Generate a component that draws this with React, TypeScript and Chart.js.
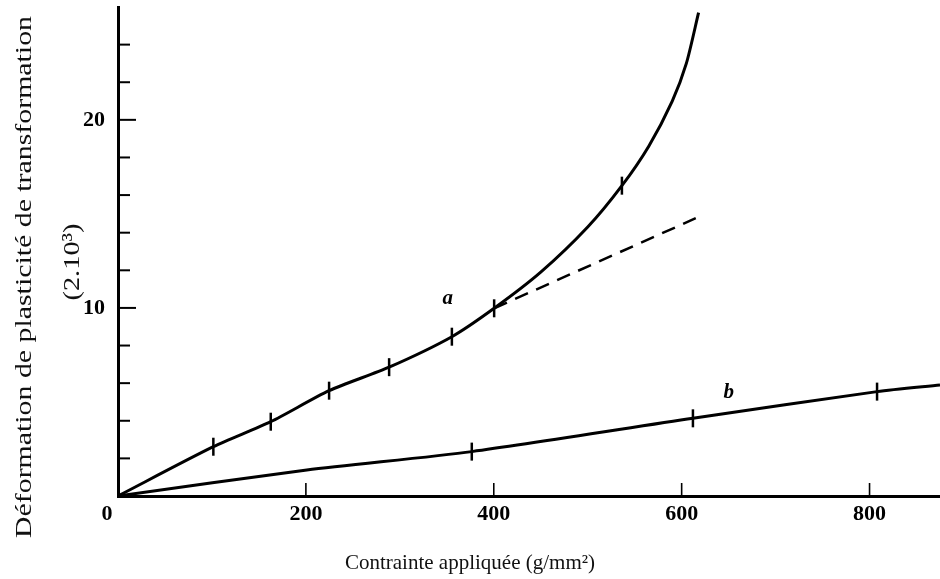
import React, { useEffect, useRef } from 'react';
import { Chart, registerables } from 'chart.js';

Chart.register(...registerables);

// Curve a (solid, upward bending)
const curveAX = [0, 101.5, 162.6, 224.7, 288.6, 355.4, 400.4, 450, 500, 536.4, 565, 590, 605, 618];
const curveAY = [0, 2.62, 3.95, 5.6, 6.85, 8.47, 9.98, 11.9, 14.3, 16.5, 18.6, 21.0, 23.0, 25.7];
// Measured points (error bars) on curve a
const markAX = [101.5, 162.6, 224.7, 288.6, 355.4, 400.4, 536.4];
const markAY = [2.62, 3.95, 5.6, 6.85, 8.47, 9.98, 16.5];
// Linear extrapolation of a (dashed)
const dashX = [400.4, 615];
const dashY = [9.98, 14.77];
// Curve b
const curveBX = [0, 201, 376.6, 612, 808, 875];
const curveBY = [0, 1.38, 2.36, 4.13, 5.55, 5.9];
const markBX = [376.6, 612, 808];
const markBY = [2.36, 4.13, 5.55];

// Axes
const xTickValues = [0, 200, 400, 600, 800];
const yTickValues = [0, 2, 4, 6, 8, 10, 12, 14, 16, 18, 20, 22, 24];
const yLabeledTicks = [10, 20];
const xMax = 875;
const yMax = 26;

const xTitle = 'Contrainte appliquée (g/mm²)';
const yTitleLines = ['Déformation de plasticité de transformation', '(2.10³)'];
const curveLabels = ['a', 'b'];
const curveLabelX = [351, 650];
const curveLabelY = [10.5, 5.5];

const SERIF = '"Liberation Serif", "Times New Roman", serif';

const pts = (xs: number[], ys: number[]) => xs.map((x, i) => ({ x, y: ys[i] }));

const decorPlugin = {
  id: 'decor',
  afterDraw(chart: any) {
    const ctx = chart.ctx as CanvasRenderingContext2D;
    const xs = chart.scales.x;
    const ys = chart.scales.y;
    const area = chart.chartArea;
    ctx.save();
    ctx.strokeStyle = '#000';
    ctx.fillStyle = '#000';
    // inward tick marks on y axis
    ctx.lineWidth = 2;
    yTickValues.forEach((v) => {
      if (v === 0) return;
      const py = ys.getPixelForValue(v);
      const len = yLabeledTicks.includes(v) ? 18 : 12;
      ctx.beginPath();
      ctx.moveTo(area.left, py);
      ctx.lineTo(area.left + len, py);
      ctx.stroke();
    });
    // inward tick marks on x axis
    ctx.lineWidth = 1.6;
    xTickValues.forEach((v) => {
      if (v === 0) return;
      const px = xs.getPixelForValue(v);
      ctx.beginPath();
      ctx.moveTo(px, area.bottom);
      ctx.lineTo(px, area.bottom - 13);
      ctx.stroke();
    });
    // curve labels
    ctx.font = `italic bold 21px ${SERIF}`;
    ctx.textAlign = 'center';
    ctx.textBaseline = 'middle';
    curveLabels.forEach((t, i) => {
      ctx.fillText(t, xs.getPixelForValue(curveLabelX[i]), ys.getPixelForValue(curveLabelY[i]));
    });
    // x title
    ctx.fillStyle = '#111';
    ctx.font = `21px ${SERIF}`;
    ctx.textAlign = 'center';
    ctx.textBaseline = 'middle';
    ctx.fillText(xTitle, 470, 563);
    // y title (rotated, stretched to the original length)
    ctx.font = `24px ${SERIF}`;
    ctx.textBaseline = 'alphabetic';
    const line1 = yTitleLines[0];
    const w1 = ctx.measureText(line1).width;
    const stretch = 522 / w1;
    ctx.save();
    ctx.translate(31, 277);
    ctx.rotate(-Math.PI / 2);
    ctx.scale(stretch, 1);
    ctx.fillText(line1, 0, 0);
    ctx.restore();
    ctx.save();
    ctx.translate(79, 262);
    ctx.rotate(-Math.PI / 2);
    ctx.scale(stretch * 0.95, 1);
    ctx.fillText(yTitleLines[1], 0, 0);
    ctx.restore();
    ctx.restore();
  },
};

export default function App() {
  const ref = useRef<HTMLCanvasElement | null>(null);
  useEffect(() => {
    if (!ref.current) return;
    const markerStyle = {
      showLine: false,
      pointStyle: 'line',
      rotation: 90,
      pointRadius: 9,
      borderColor: '#000',
      backgroundColor: '#000',
      pointBorderWidth: 2.5,
      clip: false,
    };
    const chart = new Chart(ref.current, {
      type: 'line',
      data: {
        datasets: [
          {
            label: 'a',
            data: pts(curveAX, curveAY),
            borderColor: '#000',
            borderWidth: 3,
            pointRadius: 0,
            tension: 0.25,
            fill: false,
          },
          {
            label: 'a-extrapolation',
            data: pts(dashX, dashY),
            borderColor: '#000',
            borderWidth: 2.5,
            borderDash: [14, 9],
            pointRadius: 0,
            fill: false,
          },
          {
            label: 'b',
            data: pts(curveBX, curveBY),
            borderColor: '#000',
            borderWidth: 3,
            pointRadius: 0,
            tension: 0.25,
            fill: false,
          },
          { label: 'a points', data: pts(markAX, markAY), ...markerStyle },
          { label: 'b points', data: pts(markBX, markBY), ...markerStyle },
        ],
      },
      options: {
        responsive: false,
        animation: false,
        layout: { autoPadding: false, padding: { top: 7, right: 0, left: 0, bottom: 0 } },
        plugins: { legend: { display: false }, tooltip: { enabled: false } },
        scales: {
          x: {
            type: 'linear',
            position: 'bottom',
            min: 0,
            max: xMax,
            grid: { display: false },
            border: { display: true, color: '#000', width: 3 },
            afterBuildTicks: (s: any) => {
              s.ticks = xTickValues.map((v) => ({ value: v }));
            },
            afterFit: (s: any) => {
              s.height = 83;
              s.paddingLeft = 0;
              s.paddingRight = 0;
              s.paddingTop = 0;
              s.paddingBottom = 0;
            },
            ticks: {
              autoSkip: false,
              maxRotation: 0,
              padding: -3,
              color: '#000',
              font: { family: SERIF, size: 22, weight: 'bold' },
              callback: (v: any) => (v === 0 ? '0\u2003' : String(v)),
            },
          },
          y: {
            type: 'linear',
            position: 'left',
            min: 0,
            max: yMax,
            grid: { display: false },
            border: { display: true, color: '#000', width: 3 },
            afterBuildTicks: (s: any) => {
              s.ticks = yTickValues.map((v) => ({ value: v }));
            },
            afterFit: (s: any) => {
              s.width = 118;
              s.paddingLeft = 0;
              s.paddingRight = 0;
              s.paddingTop = 0;
              s.paddingBottom = 0;
            },
            ticks: {
              autoSkip: false,
              padding: 5,
              color: '#000',
              font: { family: SERIF, size: 22, weight: 'bold' },
              callback: (v: any) => (yLabeledTicks.includes(v) ? String(v) : ''),
            },
          },
        },
      },
      plugins: [decorPlugin],
    } as any);
    return () => chart.destroy();
  }, []);
  return (
    <div style={{ position: 'absolute', left: 0, top: 0, width: 940, height: 579, background: '#fff' }}>
      <canvas ref={ref} width={940} height={579} style={{ display: 'block' }} />
    </div>
  );
}
